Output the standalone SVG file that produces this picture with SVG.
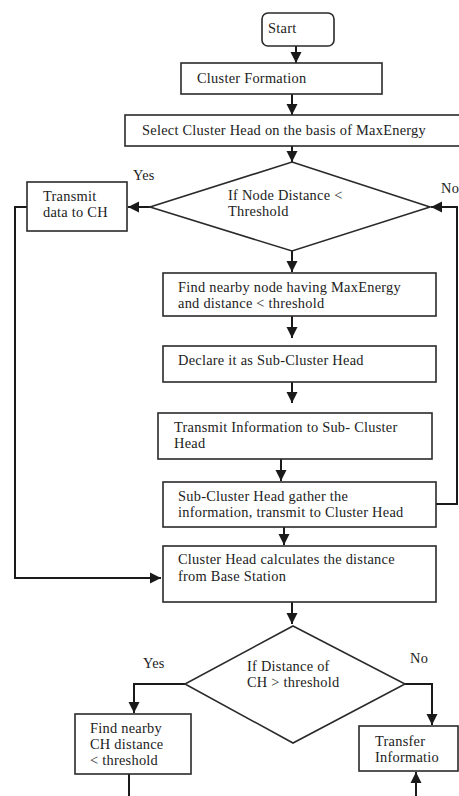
<svg xmlns="http://www.w3.org/2000/svg" width="459" height="796" viewBox="0 0 459 796">
<defs>
<style>
.box{fill:#fff;stroke:#2a2a2a;stroke-width:1.6}
.t{font-family:"Liberation Serif","Times New Roman",serif;font-size:14.4px;letter-spacing:0.25px;fill:#222}
.c{fill:none;stroke:#1a1a1a;stroke-width:2}
</style>
<marker id="ah" markerUnits="userSpaceOnUse" markerWidth="12" markerHeight="12" viewBox="0 0 12 12" refX="11" refY="6" orient="auto">
<path d="M0,0.5 L11,6 L0,11.5 Z" fill="#1a1a1a"/>
</marker>
</defs>
<rect width="459" height="796" fill="#fff"/>
<g id="connectors">
<path class="c" d="M296,46 V63" marker-end="url(#ah)"/>
<path class="c" d="M292,94 V115" marker-end="url(#ah)"/>
<path class="c" d="M292,146 V162" marker-end="url(#ah)"/>
<path class="c" d="M150,207 H128" marker-end="url(#ah)"/>
<path class="c" d="M292,251 V272" marker-end="url(#ah)"/>
<path class="c" d="M292,316 V338" marker-end="url(#ah)"/>
<path class="c" d="M292,382 V403" marker-end="url(#ah)"/>
<path class="c" d="M281,459 V481" marker-end="url(#ah)"/>
<path class="c" d="M284,527 V545" marker-end="url(#ah)"/>
<path class="c" d="M27,207 H15 V578 H161" marker-end="url(#ah)"/>
<path class="c" d="M436,504 H457 V207 H431" marker-end="url(#ah)"/>
<path class="c" d="M292,602 V624" marker-end="url(#ah)"/>
<path class="c" d="M185,684 H134 V713" marker-end="url(#ah)"/>
<path class="c" d="M405,684 H432 V725" marker-end="url(#ah)"/>
<path class="c" d="M129,774 V796"/>
<path class="c" d="M416,796 V772" marker-end="url(#ah)"/>
</g>
<g id="start">
<rect class="box" x="262" y="13" width="72" height="33" rx="6"/>
<text class="t" x="268" y="33">Start</text>
</g>
<g id="cluster-formation">
<rect class="box" x="181" y="63" width="201" height="31"/>
<text class="t" x="197" y="83">Cluster Formation</text>
</g>
<g id="select-ch">
<rect class="box" x="125" y="115" width="340" height="31"/>
<text class="t" x="142" y="135">Select Cluster Head on the basis of MaxEnergy</text>
</g>
<g id="decision-node-distance">
<path class="box" d="M292,162 L430,207 L292,251 L150,207 Z"/>
<text class="t" x="228" y="200">If Node Distance &lt;</text>
<text class="t" x="228" y="216">Threshold</text>
</g>
<g id="transmit-ch">
<rect class="box" x="27" y="182" width="100" height="49"/>
<text class="t" x="43" y="201">Transmit</text>
<text class="t" x="43" y="217">data to CH</text>
</g>
<g id="label-yes-1"><text class="t" x="133" y="180">Yes</text></g>
<g id="label-no-1"><text class="t" x="441" y="193">No</text></g>
<g id="find-nearby-node">
<rect class="box" x="163" y="273" width="273" height="43"/>
<text class="t" x="178" y="292">Find nearby node having MaxEnergy</text>
<text class="t" x="178" y="308">and distance &lt; threshold</text>
</g>
<g id="declare-sch">
<rect class="box" x="163" y="346" width="273" height="36"/>
<text class="t" x="178" y="365">Declare it as Sub-Cluster Head</text>
</g>
<g id="transmit-info">
<rect class="box" x="158" y="413" width="274" height="46"/>
<text class="t" x="174" y="432">Transmit Information to Sub- Cluster</text>
<text class="t" x="174" y="448">Head</text>
</g>
<g id="sch-gather">
<rect class="box" x="163" y="482" width="273" height="45"/>
<text class="t" x="178" y="501">Sub-Cluster Head gather the</text>
<text class="t" x="178" y="517">information, transmit to Cluster Head</text>
</g>
<g id="ch-calc">
<rect class="box" x="163" y="546" width="273" height="56"/>
<text class="t" x="178" y="564">Cluster Head calculates the distance</text>
<text class="t" x="178" y="581">from Base Station</text>
</g>
<g id="decision-ch-distance">
<path class="box" d="M293,626 L405,684 L293,743 L185,684 Z"/>
<text class="t" x="247" y="671">If Distance of</text>
<text class="t" x="247" y="687">CH &gt; threshold</text>
</g>
<g id="label-yes-2"><text class="t" x="143" y="668">Yes</text></g>
<g id="label-no-2"><text class="t" x="410" y="663">No</text></g>
<g id="find-nearby-ch">
<rect class="box" x="75" y="714" width="116" height="60"/>
<text class="t" x="90" y="733">Find nearby</text>
<text class="t" x="90" y="749">CH distance</text>
<text class="t" x="90" y="765">&lt; threshold</text>
</g>
<g id="transfer-info">
<rect class="box" x="359" y="726" width="99" height="45"/>
<text class="t" x="375" y="746">Transfer</text>
<text class="t" x="375" y="762">Informatio</text>
</g>
</svg>
